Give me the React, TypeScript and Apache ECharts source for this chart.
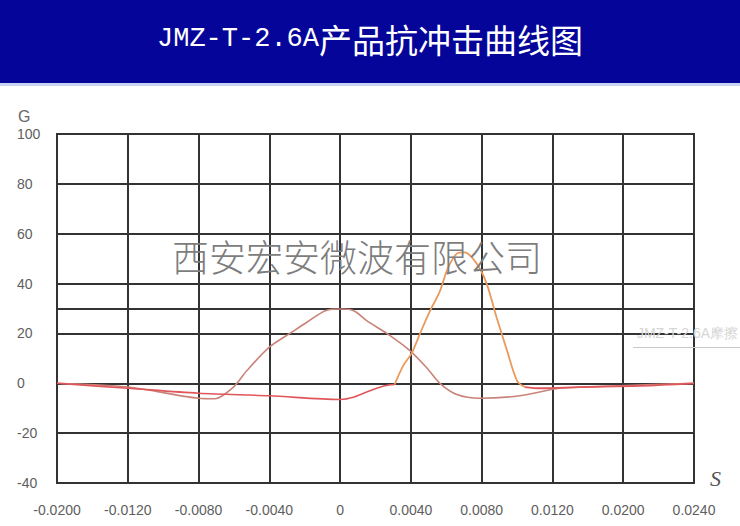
import React, { useEffect, useRef } from "react";
import * as echarts from "echarts";

const titleLatin = "JMZ-T-2.6A";
const titleCjk = "产品抗冲击曲线图";
const watermark = "西安宏安微波有限公司";
const ghostText = "JMZ-T-2.6A摩擦";
const xTickLabels = ["-0.0200", "-0.0120", "-0.0080", "-0.0040", "0", "0.0040", "0.0080", "0.0120", "0.0200", "0.0240"];
const yTickValues = [-40, -20, 0, 20, 40, 60, 80, 100];
const extraGridValue = 30;

// x positions are in grid-column units (0 = -0.0200 ... 9 = 0.0240)
const halfSineX = [0, 1, 2, 2.23, 2.49, 2.68, 3.0, 3.29, 3.53, 3.81, 4.0, 4.14, 4.23, 4.38, 4.66, 4.99, 5.23, 5.41, 5.65, 5.97, 6.54, 7.1, 7.95, 9];
const halfSineY = [0, -1.5, -6, -6.2, -1.6, 5, 14.5, 20, 24.5, 29.3, 29.8, 29.6, 28.5, 25, 20, 13, 6, 0, -4.5, -6, -5, -2, -1, 0];

const measuredLowX = [0, 1, 2, 3, 4, 4.2, 4.42, 4.63, 4.77];
const measuredLowY = [0, -2, -4, -5, -6.5, -5.5, -3, -1, -0.5];

const measuredPeakX = [4.77, 4.89, 5.01, 5.13, 5.27, 5.41, 5.52, 5.65, 5.76, 5.93, 6.07, 6.21, 6.36, 6.5, 6.61];
const measuredPeakY = [-0.5, 7, 12, 20, 29, 37, 46, 52, 52.5, 48, 40, 26.5, 13, 1, -1.5];

const measuredTailX = [6.61, 6.82, 7.39, 8.23, 9];
const measuredTailY = [-1.5, -2, -1.5, -1, 0];

const zip = (xs: number[], ys: number[]) => xs.map((x, i) => [x, ys[i]]);

export default function App() {
  const ref = useRef<HTMLDivElement>(null);
  useEffect(() => {
    if (!ref.current) return;
    const chart = echarts.init(ref.current, null, { renderer: "svg" });
    const gridColor = "#333333";
    const lineBase = {
      type: "line" as const,
      showSymbol: false,
      smooth: 0.3,
      z: 3,
    };
    chart.setOption({
      animation: false,
      backgroundColor: "#ffffff",
      title: {
        text: `{a|${titleLatin}}{b|${titleCjk}}`,
        left: "center",
        top: 17,
        textStyle: {
          fontWeight: "normal",
          rich: {
            a: { fontFamily: "Liberation Mono", fontSize: 27, fontWeight: "normal", color: "#ffffff" },
            b: { fontFamily: "Noto Sans CJK SC", fontSize: 33, fontWeight: "normal", color: "#ffffff" },
          },
        },
        z: 10,
      },
      grid: {
        left: 57,
        right: 46,
        top: 134,
        bottom: 43,
        show: true,
        borderColor: gridColor,
        borderWidth: 2,
        backgroundColor: "transparent",
      },
      xAxis: {
        type: "value",
        min: 0,
        max: 9,
        interval: 1,
        axisLine: { show: true, lineStyle: { color: gridColor, width: 2 } },
        axisTick: { show: false },
        splitLine: { show: true, lineStyle: { color: gridColor, width: 2 } },
        axisLabel: {
          margin: 20,
          fontSize: 14,
          fontFamily: "Liberation Sans",
          color: "#5e5e5e",
          formatter: (v: number) => xTickLabels[Math.round(v)] ?? "",
        },
      },
      yAxis: {
        type: "value",
        min: yTickValues[0],
        max: yTickValues[yTickValues.length - 1],
        interval: 20,
        axisLine: { show: true, lineStyle: { color: gridColor, width: 2 } },
        axisTick: { show: false },
        splitLine: { show: true, lineStyle: { color: gridColor, width: 2 } },
        axisLabel: {
          align: "left",
          margin: 40,
          fontSize: 14,
          fontFamily: "Liberation Sans",
          color: "#5e5e5e",
          padding: [6, 0, 0, 0],
        },
      },
      series: [
        {
          ...lineBase,
          name: "halfSine",
          data: zip(halfSineX, halfSineY),
          lineStyle: { color: "#c9837a", width: 1.6 },
          markLine: {
            silent: true,
            symbol: ["none", "none"],
            label: { show: false },
            lineStyle: { color: gridColor, width: 2, type: "solid" },
            data: [{ yAxis: extraGridValue }],
            z: 1,
          },
        },
        {
          ...lineBase,
          name: "measuredLow",
          data: zip(measuredLowX, measuredLowY),
          lineStyle: { color: "#e0575b", width: 1.6 },
        },
        {
          ...lineBase,
          name: "measuredPeak",
          data: zip(measuredPeakX, measuredPeakY),
          lineStyle: { color: "#e99a5c", width: 1.8 },
        },
        {
          ...lineBase,
          name: "measuredTail",
          data: zip(measuredTailX, measuredTailY),
          lineStyle: { color: "#e0575b", width: 1.8 },
        },
      ],
      graphic: [
        {
          type: "rect",
          left: 0,
          top: 0,
          shape: { width: 740, height: 83 },
          style: { fill: "#05059a" },
          z: 0,
        },
        {
          type: "rect",
          left: 0,
          top: 83,
          shape: { width: 740, height: 3 },
          style: { fill: "#c9d2f2" },
          z: 0,
        },
        {
          type: "text",
          left: 18,
          top: 108,
          style: { text: "G", fontSize: 16, fontFamily: "Liberation Sans", fill: "#666666" },
        },
        {
          type: "text",
          left: 710,
          top: 467,
          style: { text: "S", fontSize: 22, fontStyle: "italic", fontFamily: "Liberation Serif", fill: "#555555" },
        },
        {
          type: "text",
          left: 172,
          top: 237,
          z: 20,
          style: { text: watermark, fontSize: 37, fontFamily: "Noto Sans CJK SC", fontWeight: 300, fill: "#7d7d7d" },
        },
        {
          type: "text",
          right: 2,
          top: 326,
          z: 20,
          style: { text: ghostText, fontSize: 14, fontFamily: "Liberation Sans", fill: "#d6d6d6" },
        },
        {
          type: "rect",
          left: 633,
          top: 347,
          z: 20,
          shape: { width: 107, height: 1 },
          style: { fill: "#c8c8c8" },
        },
      ],
    });
    return () => chart.dispose();
  }, []);
  return (
    <div
      ref={ref}
      style={{ position: "fixed", left: 0, top: 0, width: 740, height: 526, background: "#fff" }}
    />
  );
}
